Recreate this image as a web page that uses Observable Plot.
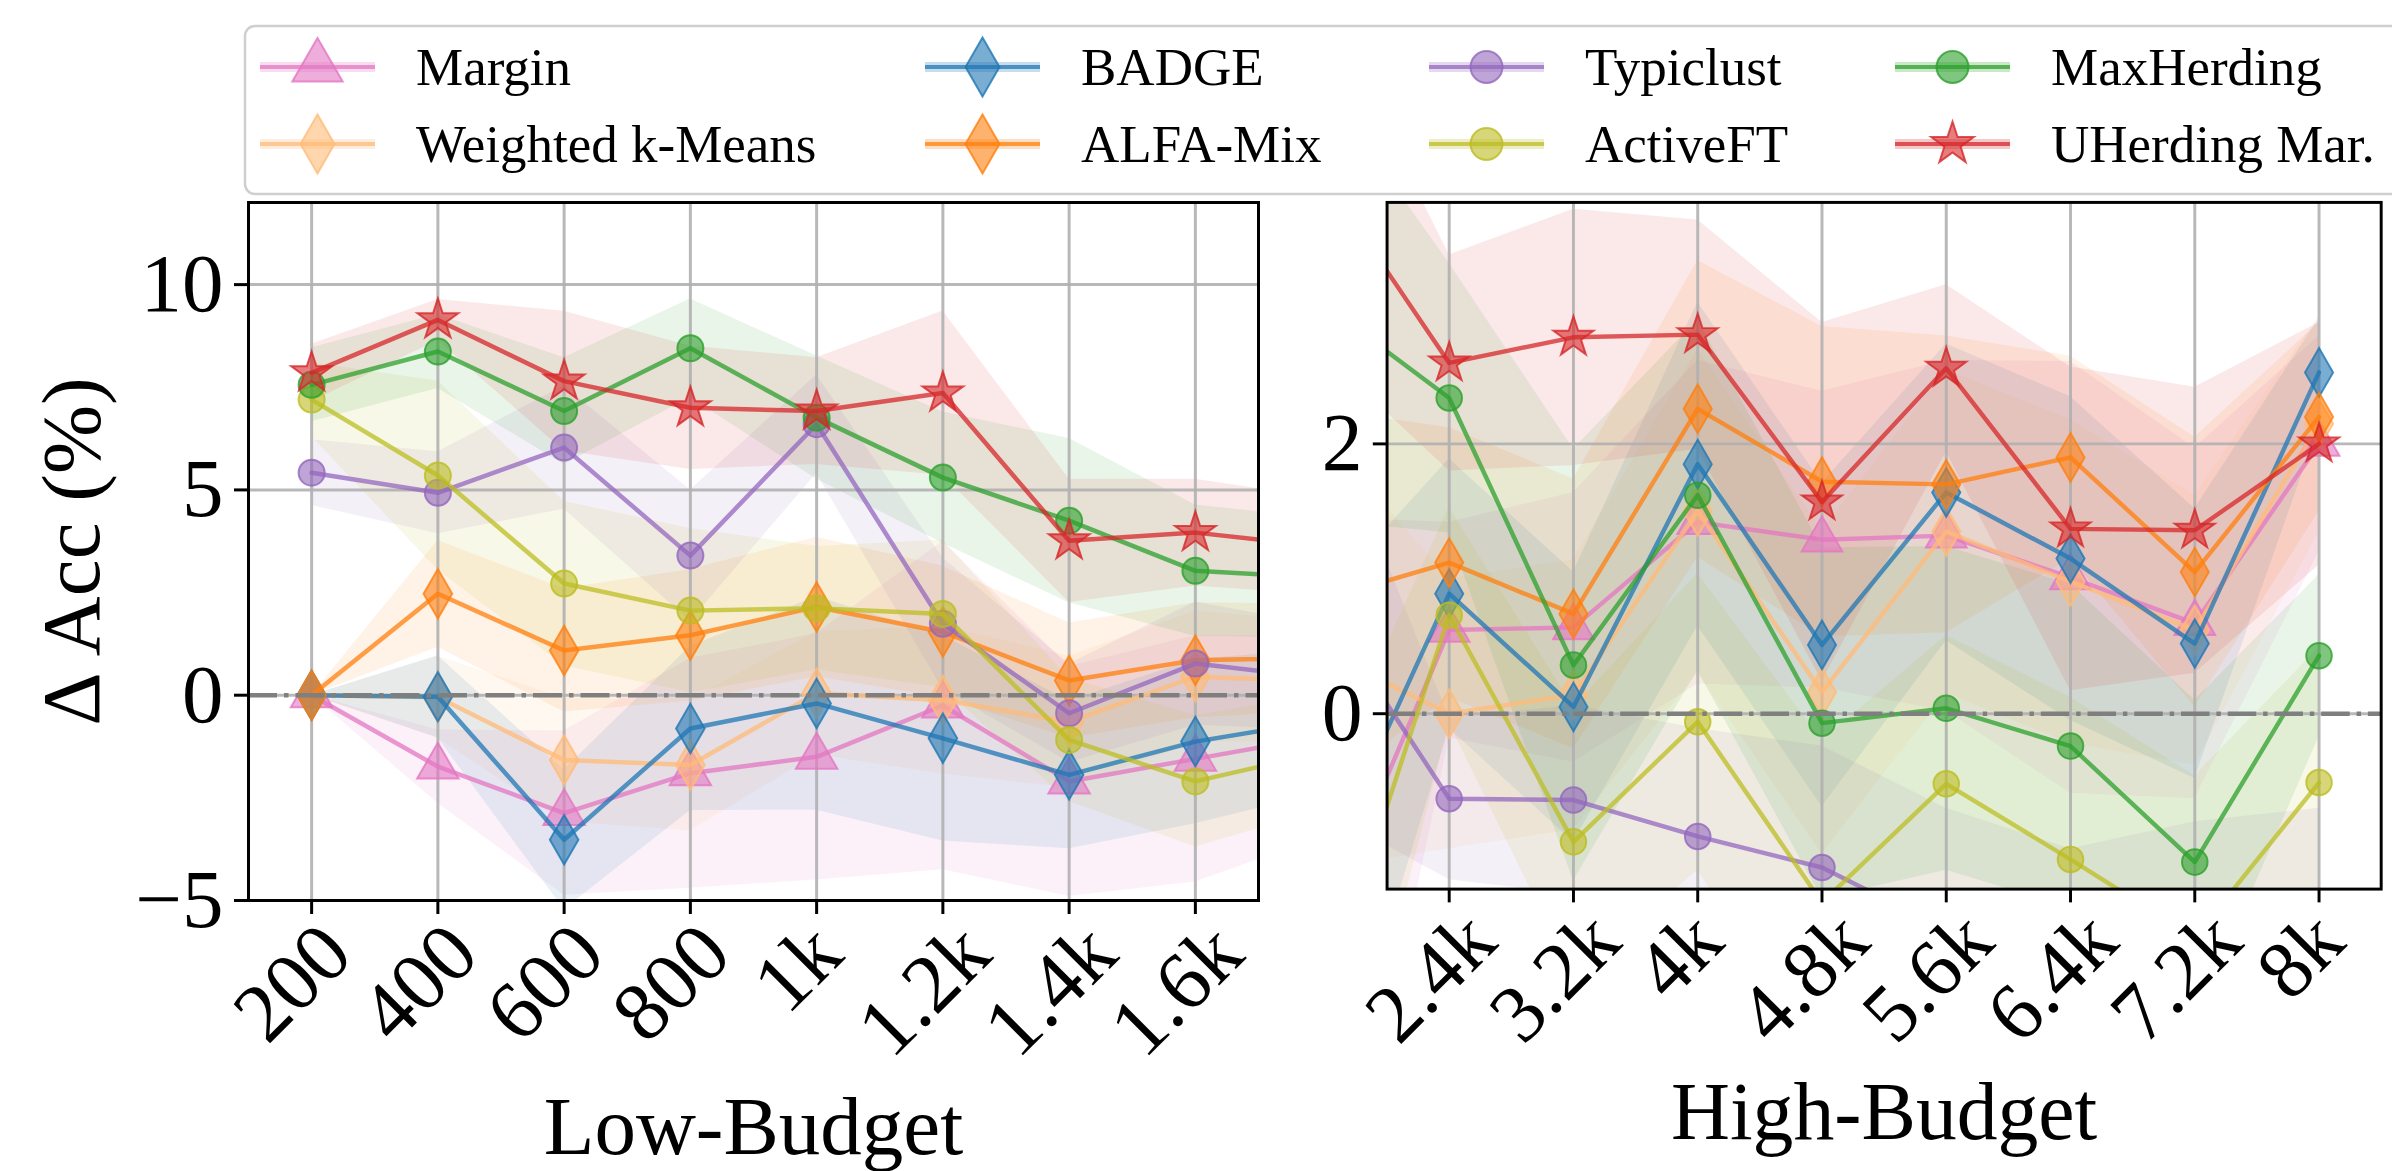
<!DOCTYPE html>
<html><head><meta charset="utf-8">
<script src="https://cdn.jsdelivr.net/npm/d3@7"></script>
<script src="https://cdn.jsdelivr.net/npm/@observablehq/plot@0.6"></script>
<style>
html,body{margin:0;padding:0;background:#fff;overflow:hidden;}
#root{position:relative;width:2392px;height:1171px;overflow:hidden;font-family:"Liberation Serif","Times New Roman",serif;}
#root svg, #root svg text{font-family:"Liberation Serif","Times New Roman",serif !important;}
#legend{position:absolute;left:0;top:0;}
#low{position:absolute;left:0;top:197px;}
#high{position:absolute;left:1300px;top:197px;}
</style></head>
<body><div id="root"><div id="legend"></div><div id="low"></div><div id="high"></div></div>
<script>
// ---------- data ----------
const budgets = [200, 400, 600, 800, 1000, 1200, 1400, 1600, 2400, 3200, 4000, 4800, 5600, 6400, 7200, 8000];
const methods = ["Margin", "Weighted k-Means", "BADGE", "ALFA-Mix", "Typiclust", "ActiveFT", "MaxHerding", "UHerding Mar."];

const marginMean = [0, -1.74, -2.87, -1.9, -1.5, -0.25, -2.1, -1.55, 0.62, 0.64, 1.42, 1.29, 1.32, 1.01, 0.67, 2.0];
const wkmMean    = [0, -0.05, -1.58, -1.7, 0.05, -0.12, -0.65, 0.45, 0.0, 0.14, 1.5, 0.16, 1.35, 0.98, 0.62, 2.15];
const badgeMean  = [0, -0.04, -3.52, -0.81, -0.2, -1.05, -1.94, -1.13, 0.89, 0.05, 1.85, 0.51, 1.64, 1.15, 0.52, 2.53];
const alfaMean   = [0, 2.47, 1.09, 1.46, 2.15, 1.54, 0.36, 0.85, 1.12, 0.74, 2.26, 1.72, 1.7, 1.9, 1.05, 2.2];
const typiMean   = [5.42, 4.93, 6.03, 3.4, 6.6, 1.74, -0.44, 0.77, -0.63, -0.64, -0.91, -1.14, -1.6, -1.9, -1.7, -1.6];
const activeMean = [7.2, 5.35, 2.72, 2.06, 2.12, 1.98, -1.09, -2.1, 0.73, -0.95, -0.06, -1.4, -0.52, -1.08, -1.66, -0.51];
const maxhMean   = [7.56, 8.37, 6.92, 8.45, 6.76, 5.3, 4.25, 3.03, 2.34, 0.36, 1.62, -0.07, 0.04, -0.24, -1.1, 0.43];
const uherdMean  = [7.85, 9.14, 7.65, 7.0, 6.92, 7.36, 3.76, 3.96, 2.6, 2.79, 2.81, 1.57, 2.56, 1.37, 1.36, 2.0];

const marginStd = [0, 0.9, 2.0, 2.8, 3.0, 4.0, 2.8, 3.0, 0.8, 1.0, 1.2, 1.1, 1.3, 1.6, 1.3, 0.8];
const wkmStd    = [0, 1.0, 1.5, 1.6, 1.5, 1.8, 1.6, 1.6, 1.0, 1.0, 1.2, 1.2, 1.2, 1.2, 1.0, 0.8];
const badgeStd  = [0, 1.0, 1.7, 2.0, 2.6, 2.5, 1.8, 2.0, 1.0, 1.0, 1.2, 1.2, 1.1, 1.2, 1.0, 0.4];
const alfaStd   = [0, 1.3, 1.5, 1.6, 1.7, 1.6, 1.4, 1.4, 1.0, 1.0, 1.1, 1.15, 1.1, 0.75, 1.0, 0.7];
const typiStd   = [0.8, 1.0, 1.5, 1.6, 1.2, 1.6, 1.2, 1.5, 0.6, 0.7, 0.8, 0.9, 0.9, 0.9, 0.9, 0.9];
const activeStd = [0.9, 2.3, 2.0, 2.0, 1.5, 1.8, 1.5, 1.6, 0.8, 1.0, 1.1, 1.2, 1.1, 1.2, 1.2, 1.0];
const maxhStd   = [0.9, 0.9, 1.3, 1.2, 1.5, 1.6, 2.0, 1.6, 1.0, 1.6, 1.3, 1.3, 1.2, 1.2, 1.2, 0.6];
const uherdStd  = [0.7, 0.5, 1.7, 1.5, 1.3, 2.0, 1.5, 1.3, 0.8, 0.95, 0.85, 1.33, 0.62, 1.2, 1.06, 0.9];

const lowTicks = [200, 400, 600, 800, 1000, 1200, 1400, 1600];
const lowTickLabels = ["200", "400", "600", "800", "1k", "1.2k", "1.4k", "1.6k"];
const highTicks = [2400, 3200, 4000, 4800, 5600, 6400, 7200, 8000];
const highTickLabels = ["2.4k", "3.2k", "4k", "4.8k", "5.6k", "6.4k", "7.2k", "8k"];
const lowYTicks = [-5, 0, 5, 10];
const highYTicks = [0, 2];

// ---------- styles ----------
const colors = ["#e377c2", "#ffbb78", "#1f77b4", "#ff7f0e", "#9467bd", "#bcbd22", "#2ca02c", "#d62728"];
const symbols = ["triangle", "diamond", "diamond", "diamond", "circle", "circle", "circle", "star"];
const dotR = [15.4, 15, 15, 15, 13, 13, 13, 12.8];
const FONT = "'Liberation Serif', 'Times New Roman', serif";
const FS = 83;

const means = [marginMean, wkmMean, badgeMean, alfaMean, typiMean, activeMean, maxhMean, uherdMean];
const stds = [marginStd, wkmStd, badgeStd, alfaStd, typiStd, activeStd, maxhStd, uherdStd];
const table = methods.flatMap((m, k) => budgets.map((b, i) => ({
  method: m, budget: b, mean: means[k][i], lo: means[k][i] - stds[k][i], hi: means[k][i] + stds[k][i]
})));

const fmtY = d => d < 0 ? "\u2212" + Math.abs(d) : String(d);

function panel({width, marginLeft, marginRight, xDomain, ticks, tickLabels, yDomain, yTicks, xTitle, yTitle}) {
  const marks = [];
  methods.forEach((m, k) => {
    marks.push(Plot.areaY(table.filter(d => d.method === m), {x: "budget", y1: "lo", y2: "hi", fill: colors[k], fillOpacity: 0.1, clip: true}));
  });
  marks.push(Plot.gridX(ticks, {stroke: "#b0b0b0", strokeOpacity: 0.9, strokeWidth: 3}));
  marks.push(Plot.gridY(yTicks, {stroke: "#b0b0b0", strokeOpacity: 0.9, strokeWidth: 3}));
  methods.forEach((m, k) => {
    const rows = table.filter(d => d.method === m);
    marks.push(Plot.line(rows, {x: "budget", y: "mean", stroke: colors[k], strokeWidth: 4.5, strokeOpacity: 0.75, clip: true}));
    marks.push(Plot.dot(rows, {x: "budget", y: "mean", symbol: symbols[k], r: dotR[k], fill: colors[k], fillOpacity: 0.6, stroke: colors[k], strokeOpacity: 0.8, strokeWidth: 2, clip: true}));
  });
  marks.push(Plot.ruleY([0], {stroke: "#7f7f7f", strokeWidth: 4.5, strokeDasharray: "29,7,4.5,7"}));
  marks.push(Plot.axisY({ticks: yTicks, tickSize: 14, tickPadding: 11, tickFormat: fmtY, strokeWidth: 3, label: null}));
  marks.push(Plot.axisX({ticks: ticks, tickSize: 14, tickFormat: () => "", strokeWidth: 3, label: null}));
  marks.push(Plot.text(ticks, {x: d => d, frameAnchor: "bottom", text: (d, i) => tickLabels[i], rotate: -45, textAnchor: "middle", lineAnchor: "middle"}));
  marks.push(Plot.text([xTitle], {frameAnchor: "bottom", dy: 227, text: d => d, lineAnchor: "middle", textAnchor: "middle"}));
  if (yTitle) marks.push(Plot.text([yTitle], {frameAnchor: "left", dx: -176, rotate: -90, text: d => d, lineAnchor: "middle", textAnchor: "middle"}));
  marks.push(Plot.frame({stroke: "black", strokeWidth: 3}));
  return Plot.plot({
    width, height: 974,
    marginLeft, marginRight, marginTop: 5, marginBottom: 271,
    style: {fontFamily: FONT, fontSize: FS + "px", background: "transparent", overflow: "visible", color: "black"},
    x: {domain: xDomain},
    y: {domain: yDomain},
    marks
  });
}

// place each rotated tick label so that its box is centred under its tick (matplotlib style)
function fixTickLabels(plot, ticks, labels) {
  const inkTop = 743;
  const xs = plot.scale("x");
  d3.select(plot).selectAll("text").each(function () {
    const idx = labels.indexOf(this.textContent);
    if (idx < 0) return;
    const x = xs.apply(ticks[idx]);
    const w = this.getComputedTextLength() - 0.08 * FS;
    const h = 0.67 * FS;
    const half = (w + h) / (2 * Math.SQRT2);
    this.removeAttribute("x");
    this.removeAttribute("y");
    this.setAttribute("transform", `translate(${x},${inkTop + half}) rotate(-45)`);
  });
}

const low = panel({width: 1300, marginLeft: 248, marginRight: 42, xDomain: [100, 1700], ticks: lowTicks, tickLabels: lowTickLabels,
  yDomain: [-5, 12], yTicks: lowYTicks, xTitle: "Low-Budget", yTitle: "\u0394 Acc (%)"});
const high = panel({width: 1110, marginLeft: 88, marginRight: 11.5, xDomain: [2000, 8400], ticks: highTicks, tickLabels: highTickLabels,
  yDomain: [-1.3, 3.79], yTicks: highYTicks, xTitle: "High-Budget", yTitle: null});
document.getElementById("low").appendChild(low);
document.getElementById("high").appendChild(high);
fixTickLabels(low, lowTicks, lowTickLabels);
fixTickLabels(high, highTicks, highTickLabels);

// ---------- legend ----------
const symbolTypes = {triangle: d3.symbolTriangle, diamond: d3.symbolDiamond, circle: d3.symbolCircle, star: d3.symbolStar};
const legendSize = {triangle: 1100, diamond: 1000, circle: 800, star: 560};
const colX = [260, 925, 1429, 1895];
const rowY = [67, 144];
const lg = d3.create("svg").attr("width", 2392).attr("height", 197).style("font-family", FONT);
lg.append("rect").attr("x", 245).attr("y", 26).attr("width", 2300).attr("height", 168).attr("rx", 10)
  .attr("fill", "white").attr("stroke", "#cfcfcf").attr("stroke-width", 2.5);
methods.forEach((m, k) => {
  const cx = colX[Math.floor(k / 2)], cy = rowY[k % 2];
  const g = lg.append("g");
  g.append("rect").attr("x", cx).attr("y", cy - 5).attr("width", 115).attr("height", 10).attr("fill", colors[k]).attr("fill-opacity", 0.25);
  g.append("line").attr("x1", cx).attr("x2", cx + 115).attr("y1", cy).attr("y2", cy).attr("stroke", colors[k]).attr("stroke-width", 4).attr("stroke-opacity", 0.75);
  g.append("path").attr("d", d3.symbol(symbolTypes[symbols[k]], legendSize[symbols[k]])())
    .attr("transform", `translate(${cx + 57.5},${cy})`)
    .attr("fill", colors[k]).attr("fill-opacity", 0.6).attr("stroke", colors[k]).attr("stroke-opacity", 0.8).attr("stroke-width", 2);
  g.append("text").attr("x", cx + 156).attr("y", cy + 17.5).attr("font-size", 53).attr("fill", "black").text(m);
});
document.getElementById("legend").appendChild(lg.node());
</script>
</body></html>
